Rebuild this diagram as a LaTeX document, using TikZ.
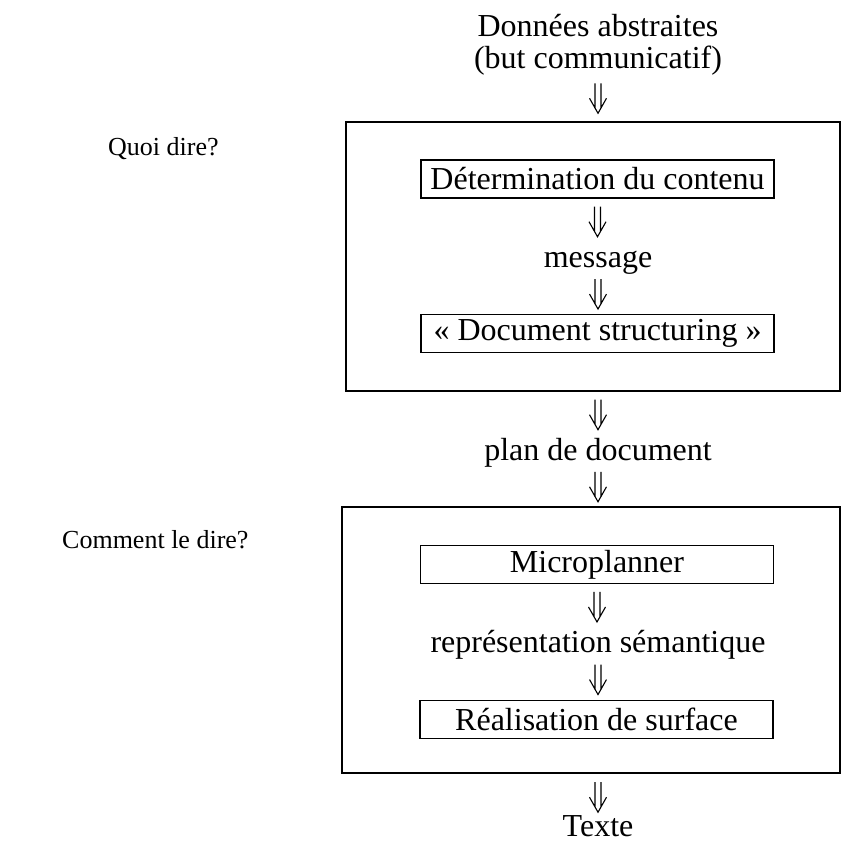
\documentclass[tikz,border=0pt]{standalone}
\usepackage{fontspec}
\setmainfont{Liberation Serif}
\usetikzlibrary{calc}
\begin{document}
\begin{tikzpicture}[x=1pt,y=-1pt,
  txt/.style={font=\fontsize{32}{36}\selectfont, inner sep=0pt, text height=22pt, text depth=7pt, anchor=base},
  lbl/.style={font=\fontsize{26}{30}\selectfont, inner sep=0pt, anchor=base west},
  stage/.style={draw, line width=1.3pt, minimum width=353pt, minimum height=38pt, inner sep=0pt, font=\fontsize{32}{36}\selectfont},
  frame/.style={draw, line width=1.3pt, inner sep=0pt},
  dbl/.style={line width=1.1pt, to path={let \p1=(\tikztostart), \p2=(\tikztotarget), \p3=($(\p1)!0.5!(\p2)$) in
     (\x1-3pt,\y3+15pt) -- (\x1-3pt,\y3-10pt)
     (\x1+3pt,\y3+15pt) -- (\x1+3pt,\y3-10pt)
     (\x1-8.5pt,\y3) -- (\x1,\y3-15pt) -- (\x1+8.5pt,\y3)}}
]
\useasboundingbox (0,0) rectangle (842,843);

% frames
\node[frame, minimum width=494pt, minimum height=269pt] (f1) at (593,256.5) {};
\node[frame, minimum width=498pt, minimum height=266pt] (f2) at (591,640) {};

% texts
\node[txt] (src1) at (598,37) {Données abstraites};
\node[txt] (src2) at (598,68) {(but communicatif)};
\node[stage] (b1) at (597.5,179) {Détermination du contenu};
\node[txt] (msg) at (598,267) {message};
\node[stage] (b2) at (597.5,333.5) {« Document structuring »};
\node[txt] (plan) at (598,460) {plan de document};
\node[stage] (b3) at (597,564.5) {Microplanner};
\node[txt] (repr) at (598,652) {représentation sémantique};
\node[stage] (b4) at (596.5,719.5) {Réalisation de surface};
\node[txt, text depth=0pt] (texte) at (598,836) {Texte};

\node[lbl] (q1) at (108,155) {Quoi dire?};
\node[lbl] (q2) at (62,548) {Comment le dire?};

% connectors
\draw[dbl] (src2.south) to (src2.south |- f1.north);
\draw[dbl] (b1.south) to (msg.north);
\draw[dbl] (msg.south) to (b2.north);
\draw[dbl] (f1.south -| plan) to (plan.north);
\draw[dbl] (plan.south) to (plan.south |- f2.north);
\draw[dbl] (b3.south) to (repr.north);
\draw[dbl] (repr.south) to (b4.north);
\draw[dbl] ([yshift=-7pt]f2.south -| texte) to (texte.north);
\end{tikzpicture}
\end{document}
